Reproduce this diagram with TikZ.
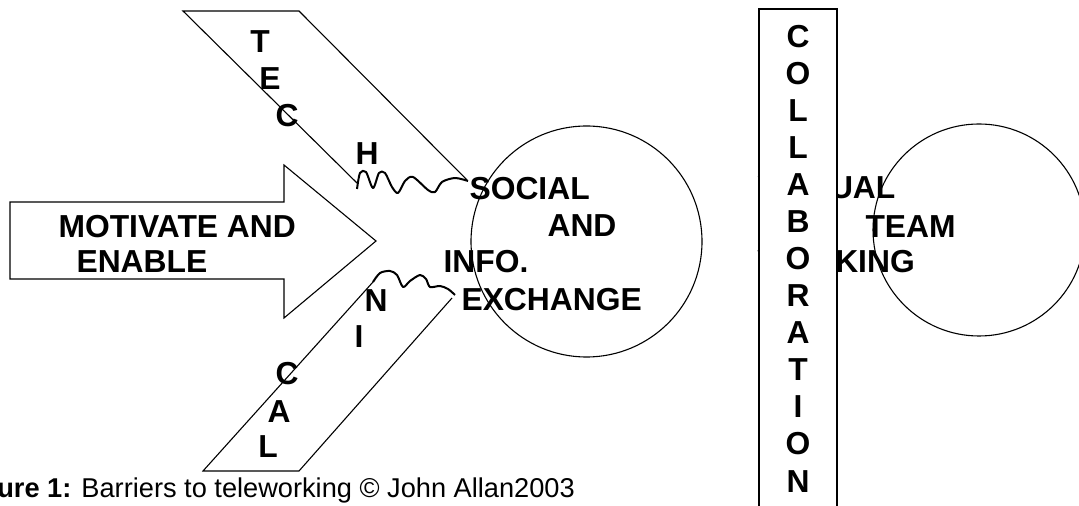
\documentclass[tikz,border=0pt]{standalone}
\usepackage{fontspec}
\setmainfont{Liberation Sans}

\begin{document}
\begin{tikzpicture}[x=0.5pt, y=-0.5pt, line width=0.55pt,
  txt/.style={font=\fontsize{15.9}{18}\selectfont\bfseries, inner sep=0, anchor=base west},
  vlet/.style={font=\fontsize{15.9}{18}\selectfont\bfseries, inner sep=0, anchor=base},
  wave/.style={line width=1pt, line join=round}]
  \useasboundingbox (0,0) rectangle (1079,506);

  % big arrow
  \draw (10,202) -- (284,202) -- (284,165) -- (376,241) -- (284,318) -- (284,279) -- (10,279) -- cycle;
  \node[txt] (motivate) at (58,238) {MOTIVATE AND};
  \node[txt] (enable) at (76,273) {ENABLE};

  % technical bands and their broken ends
  \draw (357,183) -- (183,11) -- (299,11) -- (467,180);
  \draw (373,282) -- (203,471) -- (299,471) -- (452,298);
  \draw[wave] plot[smooth] coordinates {(357,189) (360,173) (366,172) (373,188) (379,173) (385,173) (392,187) (398,193) (405,181) (413,177) (428,190) (435,192) (442,182) (455,178) (468,181)};
  \draw[wave] plot[smooth] coordinates {(373,282) (380,273) (390,271) (397,275) (403,287) (410,281) (420,275) (426,279) (430,287) (440,286) (448,289) (455,295)};
  \foreach \ch/\x/\y [count=\i] in {T/260/53, E/270/90, C/287/127, H/367/165, N/376/312, I/359/348, C/287/385, A/279/423, L/268/458}
    \node[vlet] (tech\i) at (\x,\y) {\ch};

  % social circle
  \draw (586.5,241.5) circle[radius=57.75pt];
  \node[txt] (social) at (469,200) {SOCIAL};
  \node[txt] (and) at (547,237) {AND};
  \node[txt] (info) at (443,273) {INFO.};
  \node[txt] (exchange) at (461,311) {EXCHANGE};

  % virtual team working, behind the collaboration bar
  \node[txt] (virtual) at (757,199) {VIRTUAL};
  \node[txt] (team) at (865,238) {TEAM};
  \node[txt] (working) at (757,273) {WORKING};
  \draw (979,230) circle[radius=53pt];
  \draw[fill=white, line width=0.7pt] (759,506) -- (759,9) -- (837,9) -- (837,506);
  \foreach \ch [count=\i] in {C,O,L,L,A,B,O,R,A,T,I,O,N}
    \node[vlet] (collab\i) at (798,{11+37*\i}) {\ch};

  \node[inner sep=0, anchor=base west, font=\fontsize{13.6}{15}\selectfont] (caption) at (-44,497) {\textbf{Figure 1:} Barriers to teleworking © John Allan2003};
\end{tikzpicture}
\end{document}
